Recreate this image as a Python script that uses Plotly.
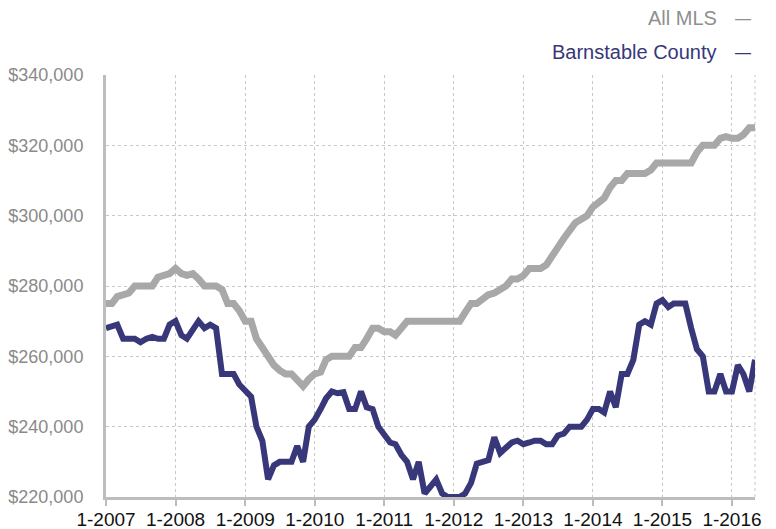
import plotly.graph_objects as go
import pandas as pd

months = pd.date_range("2007-01-01", "2016-05-01", freq="MS")

all_mls = [
    275, 275, 277, 277.5, 278, 280, 280, 280, 280, 282.5, 283, 283.5,
    285, 283.5, 283, 283.5, 282, 280, 280, 280, 279, 275, 275, 273,
    270, 270, 265, 262.5, 260, 257.5, 256, 255, 255, 253, 251.5, 253.5,
    255, 255.5, 259, 260, 260, 260, 260, 262.5, 262.5, 265, 268, 268,
    267, 267, 266, 268, 270, 270, 270, 270, 270, 270, 270, 270,
    270, 270, 272.5, 275, 275, 276.5, 277.5, 278, 279, 280, 282, 282,
    283, 285, 285, 285, 286, 289, 291, 293.5, 296, 298, 299, 300,
    302.5, 304, 305, 308, 310, 310, 312, 312, 312, 312, 313, 315,
    315, 315, 315, 315, 315, 315, 318, 320, 320, 320, 322, 322.5,
    322, 322, 323, 325, 325,
]

barnstable = [
    268, 268.5, 269, 265, 265, 265, 264, 265, 265.5, 265, 265, 269,
    270, 266, 265, 267.5, 270, 268, 269, 268, 255, 255, 255, 252,
    250, 248.5, 240, 236, 225, 229, 230, 230, 230, 234.5, 230, 240,
    242, 245, 248, 250, 249.5, 249.8, 245, 245, 250, 245.5, 245, 240,
    238, 235.5, 235, 232, 230, 225, 230, 221, 223, 225, 221, 220,
    220, 220, 221, 224, 229.5, 230, 230.5, 237, 232.5, 234, 235.5, 236,
    235, 235.5, 236, 236, 235, 235, 237.5, 238, 240, 240, 240, 242,
    245, 245, 244, 250, 245.5, 255, 255, 259, 269, 270, 269, 275,
    276, 274, 275, 275, 275, 268, 262, 260, 250, 250, 255, 250,
    250, 257.5, 255, 250, 259,
]

tick_dates = pd.date_range("2007-01-01", "2016-01-01", freq="YS")
tick_text = [f"1-{d.year}" for d in tick_dates]
y_ticks = [220000, 240000, 260000, 280000, 300000, 320000, 340000]
y_text = [f"${v:,}" for v in y_ticks]
series_names = ["All MLS", "Barnstable County"]

GRAY = "#a8a8a8"
NAVY = "#37377a"

fig = go.Figure()
fig.add_trace(go.Scatter(x=months, y=[v * 1000 for v in all_mls], mode="lines",
                         name=series_names[0], line=dict(color=GRAY, width=7),
                         showlegend=False))
fig.add_trace(go.Scatter(x=months, y=[v * 1000 for v in barnstable], mode="lines",
                         name=series_names[1], line=dict(color=NAVY, width=6),
                         showlegend=False))

font = "Liberation Sans, Arial, sans-serif"

fig.update_layout(
    width=768, height=521,
    margin=dict(l=98, r=21, t=67, b=32, autoexpand=False),
    paper_bgcolor="white", plot_bgcolor="white",
    font=dict(family=font, size=18),
    xaxis=dict(
        range=[months[0], months[-1]],
        tickvals=tick_dates, ticktext=tick_text,
        tickfont=dict(color="#111111", size=19),
        showgrid=True, gridcolor="#c8c8c8", griddash="dot", gridwidth=1,
        showline=True, linecolor="#bdbdbd", linewidth=3,
        ticks="outside", ticklen=6, tickcolor="#bdbdbd", tickwidth=2,
        ticklabelstandoff=-3,
        zeroline=False, automargin=False,
    ),
    yaxis=dict(
        range=[220000, 340000],
        tickvals=y_ticks, ticktext=y_text,
        tickfont=dict(color="#8a8a8a", size=18),
        showgrid=True, gridcolor="#c8c8c8", griddash="dot", gridwidth=1,
        showline=True, linecolor="#bdbdbd", linewidth=3,
        ticks="", ticklabelstandoff=16,
        zeroline=False, automargin=False,
    ),
)

fig.add_shape(type="line", xref="paper", yref="paper", x0=1, x1=1, y0=0, y1=1,
              line=dict(color="#c8c8c8", width=1, dash="dot"), layer="below")

for name, color, shift in [(series_names[0], "#8f8f8f", 57),
                           (series_names[1], NAVY, 23)]:
    fig.add_annotation(xref="paper", yref="paper", x=1.0, y=1.0, yshift=shift,
                       xshift=-36, xanchor="right", yanchor="middle", showarrow=False,
                       text=name, font=dict(color=color, size=20, family=font))
    fig.add_annotation(xref="paper", yref="paper", x=1.0, y=1.0, yshift=shift,
                       xshift=-12, xanchor="center", yanchor="middle", showarrow=False,
                       text="—", font=dict(color=color, size=16, family=font))

fig.write_html("out.html")
